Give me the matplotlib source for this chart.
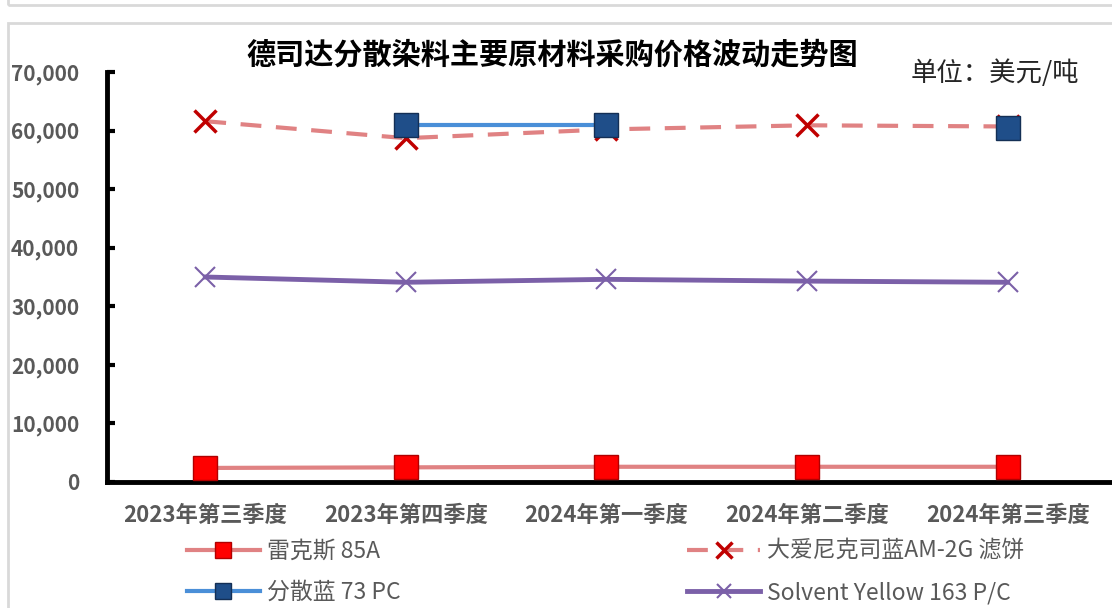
import numpy as np
import matplotlib.pyplot as plt
from matplotlib.patches import Rectangle

plt.rcParams['font.family'] = ['Noto Sans CJK SC', 'DejaVu Sans']

quarters = ['2023年第三季度', '2023年第四季度', '2024年第一季度', '2024年第二季度', '2024年第三季度']
leikesi = [2400, 2500, 2600, 2600, 2600]
dainike = [61600, 58700, 60200, 60900, 60700]
fensanlan = [np.nan, 60900, 60900, np.nan, 60400]
solvent = [35000, 34100, 34600, 34300, 34100]

x = np.arange(len(quarters))

fig = plt.figure(figsize=(11.12, 6.08), dpi=100)
# outer frames like the source sheet
fig.patches.append(Rectangle((8/1112, -0.01), 1.1, 1 - 23/608 + 0.01, transform=fig.transFigure,
                             fill=False, edgecolor='#d9d9d9', lw=2))
fig.patches.append(Rectangle((8/1112, 1 - 5/608), 1.1, 0.1, transform=fig.transFigure,
                             fill=False, edgecolor='#d9d9d9', lw=2))

ax = fig.add_axes([107/1112, 1 - 482/608, 1 - 107/1112, (482 - 72)/608])

h1, = ax.plot(x, leikesi, color='#E08283', lw=3, marker='s', ms=17,
              mfc='#FF0000', mec='#B00000', mew=1, label='雷克斯 85A', zorder=3)
h2, = ax.plot(x, dainike, color='#E08283', lw=3, ls=(0, (5, 3.5)), marker='x', ms=16,
              mec='#C00000', mew=2.5, label='大爱尼克司蓝AM-2G 滤饼', zorder=2)
h3, = ax.plot(x, fensanlan, color='#4A8FD8', lw=3, marker='s', ms=17,
              mfc='#1F4E89', mec='#142F55', mew=1, label='分散蓝 73 PC', zorder=4)
h4, = ax.plot(x, solvent, color='#7B60A8', lw=3.5, marker='x', ms=14,
              mec='#7B60A8', mew=1.5, label='Solvent Yellow 163 P/C', zorder=3)

ax.set_xlim(-0.49, 4.52)
ax.set_ylim(0, 70000)
ax.set_yticks(np.arange(0, 70001, 10000))
ax.set_yticklabels([f'{v:,}' for v in range(0, 70001, 10000)])
ax.set_xticks(x)
ax.set_xticklabels(quarters)

for s in ['top', 'right']:
    ax.spines[s].set_visible(False)
for s in ['left', 'bottom']:
    ax.spines[s].set_linewidth(3.5)
    ax.spines[s].set_color('black')

ax.tick_params(axis='y', direction='in', length=6, width=3, pad=20,
               labelsize=15, labelcolor='#595959')
ax.tick_params(axis='x', length=0, pad=16, labelsize=16, labelcolor='#595959')
for lab in ax.get_yticklabels() + ax.get_xticklabels():
    lab.set_fontweight('bold')

fig.text(552/1112, 1 - 55/608, '德司达分散染料主要原材料采购价格波动走势图',
         ha='center', va='center', fontsize=21, fontweight='bold', color='black')
fig.text(995/1112, 1 - 73/608, '单位：美元/吨', ha='center', va='center',
         fontsize=19, color='#262626')

leg = fig.legend(handles=[h1, h3, h2, h4], ncol=2, loc='center left',
                 bbox_to_anchor=(166/1112, 1 - 572/608), frameon=False,
                 fontsize=16.5, labelcolor='#595959', handlelength=3.2,
                 columnspacing=12.5, labelspacing=0.8, handletextpad=0.3,
                 markerscale=0.7)

fig.savefig('out.png', dpi=100)
